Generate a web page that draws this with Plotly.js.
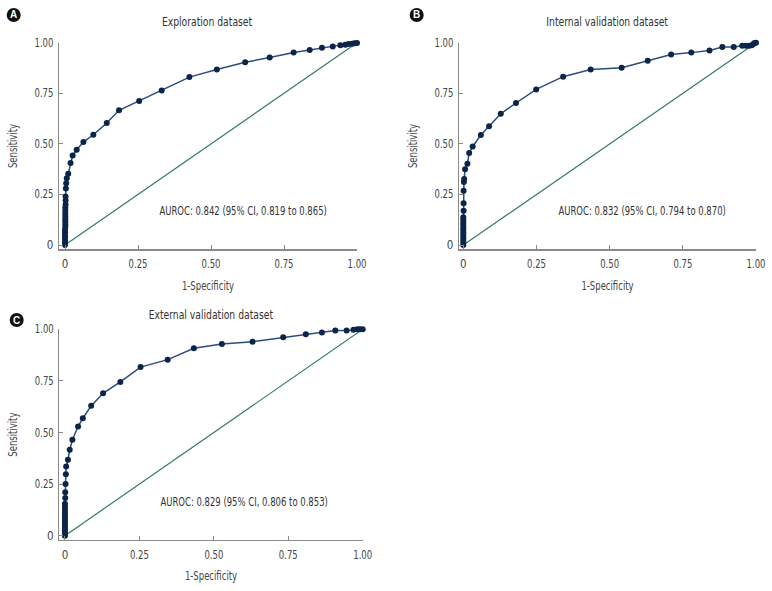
<!DOCTYPE html>
<html>
<head>
<meta charset="utf-8">
<script src="https://cdn.plot.ly/plotly-3.0.1.min.js"></script>
<style>html,body{margin:0;padding:0;background:#fff;}#chart{width:772px;height:591px;}</style>
</head>
<body>
<div id="chart"></div>
<script>
// Panel A: Exploration dataset
const titleA = "Exploration dataset";
const aurocA = "AUROC: 0.842 (95% CI, 0.819 to 0.865)";
const fprA = [0, 0, 0, 0, 0, 0, 0, 0.001, 0.001, 0.001, 0.001, 0.001, 0.001, 0.001, 0.001, 0.002, 0.002, 0.002, 0.003, 0.004, 0.006, 0.011, 0.019, 0.026, 0.040, 0.063, 0.097, 0.143, 0.185, 0.254, 0.331, 0.426, 0.520, 0.617, 0.701, 0.783, 0.838, 0.880, 0.917, 0.943, 0.960, 0.971, 0.983, 0.991, 1.0];
const tprA = [0, 0.012, 0.025, 0.038, 0.05, 0.063, 0.076, 0.089, 0.102, 0.115, 0.128, 0.141, 0.155, 0.170, 0.185, 0.200, 0.220, 0.240, 0.280, 0.306, 0.330, 0.352, 0.405, 0.443, 0.471, 0.509, 0.545, 0.603, 0.666, 0.712, 0.764, 0.830, 0.868, 0.903, 0.927, 0.952, 0.964, 0.975, 0.981, 0.988, 0.990, 0.993, 0.995, 0.997, 0.998, 1.0];
// Panel B: Internal validation dataset
const titleB = "Internal validation dataset";
const aurocB = "AUROC: 0.832 (95% CI, 0.794 to 0.870)";
const fprB = [0, 0, 0, 0, 0, 0, 0, 0, 0, 0, 0, 0, 0.001, 0.001, 0.001, 0.002, 0.003, 0.006, 0.014, 0.020, 0.032, 0.060, 0.088, 0.128, 0.180, 0.249, 0.341, 0.435, 0.541, 0.630, 0.710, 0.779, 0.841, 0.885, 0.924, 0.953, 0.966, 0.977, 0.986, 0.991, 0.995, 1.0];
const tprB = [0, 0.012, 0.025, 0.037, 0.05, 0.062, 0.075, 0.087, 0.10, 0.112, 0.125, 0.138, 0.169, 0.207, 0.268, 0.311, 0.327, 0.375, 0.402, 0.455, 0.487, 0.544, 0.587, 0.649, 0.702, 0.769, 0.832, 0.867, 0.876, 0.911, 0.942, 0.951, 0.962, 0.979, 0.979, 0.985, 0.985, 0.985, 0.988, 0.993, 0.998, 1.0];
// Panel C: External validation dataset
const titleC = "External validation dataset";
const aurocC = "AUROC: 0.829 (95% CI, 0.806 to 0.853)";
const fprC = [0, 0, 0, 0, 0, 0, 0, 0, 0, 0, 0, 0, 0, 0.001, 0.001, 0.002, 0.003, 0.004, 0.010, 0.016, 0.025, 0.044, 0.060, 0.088, 0.128, 0.186, 0.254, 0.345, 0.433, 0.527, 0.630, 0.733, 0.809, 0.863, 0.908, 0.946, 0.969, 0.982, 0.991, 1.0];
const tprC = [0, 0.012, 0.025, 0.037, 0.05, 0.062, 0.075, 0.087, 0.10, 0.112, 0.125, 0.140, 0.155, 0.182, 0.210, 0.250, 0.298, 0.335, 0.368, 0.416, 0.465, 0.529, 0.569, 0.629, 0.690, 0.745, 0.817, 0.853, 0.908, 0.929, 0.940, 0.961, 0.976, 0.985, 0.994, 0.994, 0.998, 1.0, 1.0, 1.0];
const tickVals = [0, 0.25, 0.5, 0.75, 1.0];
const tickText = ["0", "0.25", "0.50", "0.75", "1.00"];
const diag = [0, 1];

const FONT = "'DejaVu Sans Condensed', 'Liberation Sans Narrow', 'Roboto', sans-serif";
const lineCol = "#2c4c7e";
const markCol = "#0b2549";
const diagCol = "#2f7d68";
const SQUEEZE = 0.82;

function rocTrace(x, y, xa, ya) {
  return {x: x, y: y, xaxis: xa, yaxis: ya, type: 'scatter', mode: 'lines+markers',
    line: {color: lineCol, width: 1.5}, marker: {color: markCol, size: 6}, cliponaxis: false, hoverinfo: 'none'};
}
function diagTrace(xa, ya) {
  return {x: diag, y: diag, xaxis: xa, yaxis: ya, type: 'scatter', mode: 'lines',
    line: {color: diagCol, width: 1.2}, cliponaxis: false, hoverinfo: 'none'};
}
const data = [
  diagTrace('x', 'y'), rocTrace(fprA, tprA, 'x', 'y'),
  diagTrace('x2', 'y2'), rocTrace(fprB, tprB, 'x2', 'y2'),
  diagTrace('x3', 'y3'), rocTrace(fprC, tprC, 'x3', 'y3')
];

function xax(domain, left, anchor) {
  return {domain: domain, range: [left, 1.0], anchor: anchor, showgrid: false, zeroline: false,
    showline: true, linecolor: '#8a8a8a', linewidth: 1.3, ticks: 'inside', ticklen: 4, tickcolor: '#8a8a8a',
    tickvals: tickVals, ticktext: tickText, ticklabelstandoff: 4, tickfont: {family: FONT, size: 11.5, color: '#444'},
    title: {text: '1-Specificity', font: {family: FONT, size: 11.5, color: '#444'}, standoff: 11}};
}
function yax(domain, bottom, anchor) {
  return {domain: domain, range: [bottom, 1.0], anchor: anchor, showgrid: false, zeroline: false,
    showline: true, linecolor: '#8a8a8a', linewidth: 1.3, ticks: 'inside', ticklen: 4, tickcolor: '#8a8a8a',
    tickvals: tickVals, ticktext: tickText, ticklabelstandoff: 2, tickfont: {family: FONT, size: 11.5, color: '#444'},
    title: {text: 'Sensitivity', font: {family: FONT, size: 11.5, color: '#444'}, standoff: 10}};
}

const W = 772, H = 591;
const dAx = [59 / W, 357 / W], dAy = [1 - 249.3 / H, 1 - 42.7 / H];
const dBx = [459 / W, 756 / W], dBy = dAy;
const dCx = [59.3 / W, 362.7 / W], dCy = [1 - 540 / H, 1 - 329.3 / H];

function circle(cx, cy, r) {
  return {type: 'circle', xref: 'paper', yref: 'paper', x0: (cx - r) / W, x1: (cx + r) / W,
    y0: 1 - (cy + r) / H, y1: 1 - (cy - r) / H, fillcolor: '#111', line: {width: 0}};
}
function label(t, cx, cy) {
  return {text: '<b>' + t + '</b>', xref: 'paper', yref: 'paper', x: cx / W, y: 1 - cy / H, showarrow: false,
    xanchor: 'center', yanchor: 'middle', font: {family: 'Liberation Sans, Arial, sans-serif', size: 10, color: '#fff'}};
}
function ttl(t, domx, cy) {
  return {text: t, xref: 'paper', yref: 'paper', x: (domx[0] + domx[1]) / 2, y: 1 - cy / H, showarrow: false,
    xanchor: 'center', yanchor: 'middle', font: {family: FONT, size: 12.5, color: '#333'}};
}
function auroc(t, xa, ya, x, y) {
  return {text: t, xref: xa, yref: ya, x: x, y: y, showarrow: false, xanchor: 'center', yanchor: 'middle',
    font: {family: FONT, size: 11.5, color: '#333'}};
}

const layout = {
  width: W, height: H, margin: {l: 0, r: 0, t: 0, b: 0}, showlegend: false,
  paper_bgcolor: '#fff', plot_bgcolor: '#fff',
  xaxis: xax(dAx, -0.0206, 'y'), yaxis: yax(dAy, -0.021, 'x'),
  xaxis2: xax(dBx, -0.0147, 'y2'), yaxis2: yax(dBy, -0.021, 'x2'),
  xaxis3: xax(dCx, -0.019, 'y3'), yaxis3: yax(dCy, -0.021, 'x3'),
  shapes: [circle(13.7, 15, 7), circle(416.7, 15, 7), circle(16.7, 320, 7)],
  annotations: [
    label('A', 13.7, 15), label('B', 416.7, 15), label('C', 16.7, 320),
    ttl(titleA, dAx, 22), ttl(titleB, dBx, 22), ttl(titleC, dCx, 314),
    auroc(aurocA, 'x', 'y', 0.61, 0.17), auroc(aurocB, 'x2', 'y2', 0.611, 0.17), auroc(aurocC, 'x3', 'y3', 0.60, 0.162)
  ]
};
Plotly.newPlot('chart', data, layout, {staticPlot: true, displayModeBar: false}).then(function () {
  // narrow the text horizontally to mimic the condensed typeface of the original
  document.querySelectorAll('#chart svg text').forEach(function (t) {
    const s = (t.textContent || '').trim();
    if (s.length < 2) return;
    const len = t.getComputedTextLength();
    if (len > 0) {
      t.setAttribute('textLength', (len * SQUEEZE).toFixed(2));
      t.setAttribute('lengthAdjust', 'spacingAndGlyphs');
    }
  });
});
</script>
</body>
</html>
